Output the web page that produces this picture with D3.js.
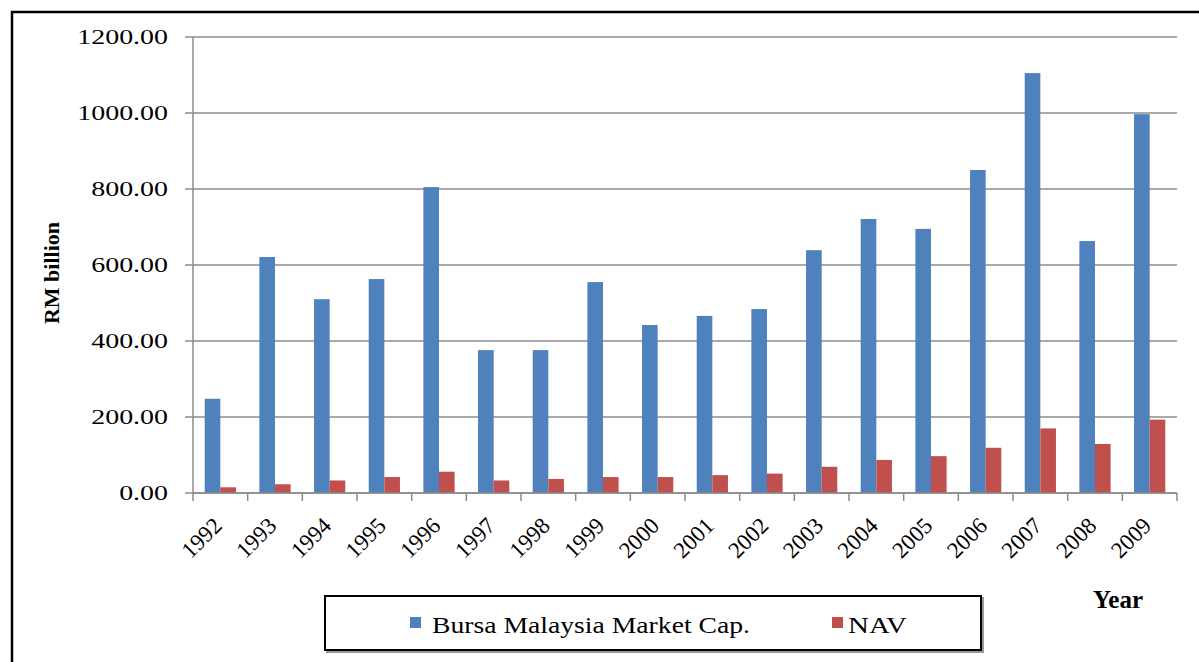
<!DOCTYPE html>
<html lang="en">
<head>
    <meta charset="UTF-8">
    <title>Bursa Malaysia Market Cap. and NAV</title>
    <script src="https://d3js.org/d3.v7.min.js"></script>
    <style>
        body { margin: 0; padding: 0; background: #fff; }
        svg { display: block; }
        text { font-family: "Liberation Serif", "Times New Roman", serif; fill: #000; }
    </style>
</head>
<body>
    <div id="chart"></div>

    <script>
        const years = ["1992", "1993", "1994", "1995", "1996", "1997", "1998", "1999", "2000",
                       "2001", "2002", "2003", "2004", "2005", "2006", "2007", "2008", "2009"];
        const marketCap = [248, 621, 510, 563, 805, 376, 376, 555, 442,
                           466, 484, 639, 721, 695, 850, 1105, 663, 997];
        const nav = [15, 23, 33, 42, 56, 33, 37, 42, 42,
                     47, 51, 69, 87, 97, 119, 170, 129, 193];
        const yTicks = [0, 200, 400, 600, 800, 1000, 1200];
        const seriesNames = ["Bursa Malaysia Market Cap.", "NAV"];
        const colors = ["#4F81BD", "#C0504D"];

        const width = 1199, height = 662;
        const plotLeft = 193, plotRight = 1177, plotTop = 37, plotBottom = 493;

        const svg = d3.select("#chart").append("svg")
            .attr("width", width)
            .attr("height", height);

        // outer frame (partially outside the picture)
        svg.append("rect")
            .attr("x", 12).attr("y", 12)
            .attr("width", 1250).attr("height", 700)
            .attr("fill", "none").attr("stroke", "#000").attr("stroke-width", 2.5);

        const x = d3.scaleBand().domain(years).range([plotLeft, plotRight]);
        const y = d3.scaleLinear().domain([0, 1200]).range([plotBottom, plotTop]);
        // Excel-like clustered bars, gap width 150%
        const barW = x.bandwidth() / 3.5;
        const inner = d3.scaleBand().domain([0, 1]).range([0.75 * barW, 2.75 * barW]);

        // gridlines
        svg.append("g").selectAll("line")
            .data(yTicks)
            .join("line")
            .attr("x1", plotLeft - 8).attr("x2", plotRight)
            .attr("y1", d => y(d)).attr("y2", d => y(d))
            .attr("stroke", "#8c8c8c").attr("stroke-width", 1.5);

        // y axis line
        svg.append("line")
            .attr("x1", plotLeft).attr("x2", plotLeft)
            .attr("y1", plotTop).attr("y2", plotBottom)
            .attr("stroke", "#8c8c8c").attr("stroke-width", 1.5);

        // x ticks at category boundaries
        const bounds = years.map(d => x(d)).concat([plotRight]);
        svg.append("g").selectAll("line")
            .data(bounds)
            .join("line")
            .attr("x1", d => d).attr("x2", d => d)
            .attr("y1", plotBottom).attr("y2", plotBottom + 8)
            .attr("stroke", "#8c8c8c").attr("stroke-width", 1.5);

        // bars
        const seriesData = [marketCap, nav];
        seriesData.forEach((vals, i) => {
            svg.append("g").selectAll("rect")
                .data(vals)
                .join("rect")
                .attr("x", (d, j) => x(years[j]) + inner(i))
                .attr("y", d => y(d))
                .attr("width", inner.bandwidth())
                .attr("height", d => plotBottom - y(d))
                .attr("fill", colors[i]);
        });

        // x axis baseline over bars
        svg.append("line")
            .attr("x1", plotLeft).attr("x2", plotRight)
            .attr("y1", plotBottom).attr("y2", plotBottom)
            .attr("stroke", "#8c8c8c").attr("stroke-width", 1.5);

        // y tick labels (stretched horizontally like the original)
        svg.append("g").selectAll("text")
            .data(yTicks)
            .join("text")
            .attr("transform", d => `translate(168,${y(d) + 7}) scale(1.27,1)`)
            .attr("text-anchor", "end")
            .style("font-size", "22px")
            .text(d => d3.format(".2f")(d));

        // year labels
        svg.append("g").selectAll("text")
            .data(years)
            .join("text")
            .attr("transform", d => `translate(${x(d) + x.bandwidth() / 2 + 3},${plotBottom + 34}) rotate(-45)`)
            .attr("text-anchor", "end")
            .style("font-size", "23px")
            .text(d => d);

        // axis titles
        svg.append("text")
            .attr("transform", "translate(59,273) rotate(-90)")
            .attr("text-anchor", "middle")
            .style("font-size", "22px").style("font-weight", "bold")
            .text("RM billion");

        svg.append("text")
            .attr("x", 1118).attr("y", 608)
            .attr("text-anchor", "middle")
            .style("font-size", "25px").style("font-weight", "bold")
            .text("Year");

        // legend
        svg.append("rect")
            .attr("x", 327).attr("y", 598).attr("width", 656).attr("height", 54)
            .attr("fill", "none").attr("stroke", "#999").attr("stroke-width", 2);
        svg.append("rect")
            .attr("x", 325).attr("y", 596).attr("width", 656).attr("height", 54)
            .attr("fill", "#fff").attr("stroke", "#000").attr("stroke-width", 2);

        const legendItems = [
            { sx: 410, tx: 432, len: 318 },
            { sx: 832, tx: 848, len: 59 }
        ];
        legendItems.forEach((it, i) => {
            svg.append("rect")
                .attr("x", it.sx).attr("y", 617)
                .attr("width", 11).attr("height", 11)
                .attr("fill", colors[i]);
            svg.append("text")
                .attr("x", it.tx).attr("y", 633)
                .attr("textLength", it.len)
                .attr("lengthAdjust", "spacingAndGlyphs")
                .style("font-size", "23px")
                .text(seriesNames[i]);
        });
    </script>
</body>
</html>
